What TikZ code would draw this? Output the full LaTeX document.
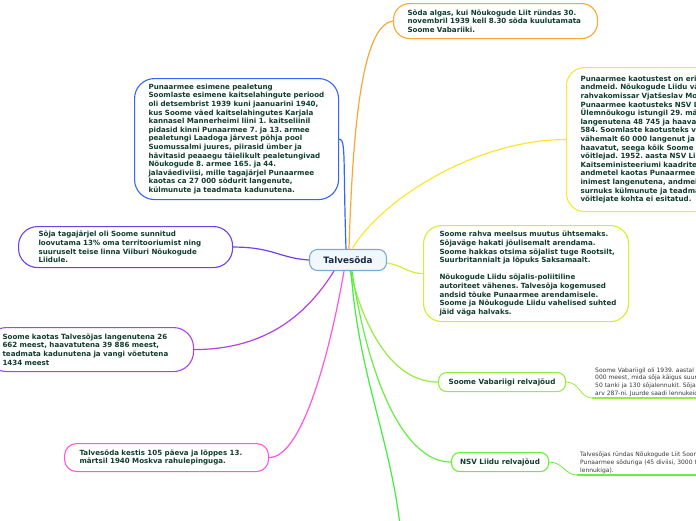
\documentclass[tikz,border=0pt]{standalone}
\usepackage{fontspec}
\setmainfont{DejaVu Sans}
\usetikzlibrary{calc}
\frenchspacing

\definecolor{tekst}{RGB}{16,62,46}
\definecolor{notetext}{RGB}{55,55,55}
\definecolor{keskjoon}{RGB}{120,172,214}
\definecolor{kesktekst}{RGB}{22,42,72}
\definecolor{oranz}{RGB}{250,168,52}
\definecolor{kollane}{RGB}{255,230,45}
\definecolor{sinine}{RGB}{52,100,252}
\definecolor{lilla}{RGB}{112,64,236}
\definecolor{violett}{RGB}{178,64,228}
\definecolor{roosa}{RGB}{255,86,228}
\definecolor{kollroh}{RGB}{212,240,44}
\definecolor{laim}{RGB}{150,236,64}
\definecolor{roheline}{RGB}{104,238,64}
\definecolor{eredroh}{RGB}{64,238,64}

\tikzset{
  mull/.style={draw=#1, fill=white, line width=1.1pt, anchor=north west,
    inner xsep=12pt, inner ysep=2pt, align=left, text=tekst,
    font=\fontsize{7.1}{8.6}\selectfont\bfseries,
    execute at begin node={\hyphenpenalty=10000\rightskip=0pt plus 1fil minus 200pt}},
  haru/.style={draw=#1, line width=1.2pt},
  markus/.style={anchor=south west, inner xsep=3pt, inner ysep=1pt, align=left,
    text width=240pt, text=notetext, font=\fontsize{6.0}{7.8}\selectfont},
}

\begin{document}
\begin{tikzpicture}[x=1pt,y=-1pt]
  \path[use as bounding box] (0,0) rectangle (696,520);
  \clip (0,0) rectangle (696,520);

  % 中心节点
  \node[draw=keskjoon, fill=keskjoon!10, line width=1.1pt, rounded corners=8pt,
    minimum width=77pt, minimum height=21pt, text=kesktekst,
    font=\fontsize{8.8}{10}\selectfont\bfseries] (kesk) at (348,260) {Talvesõda};

  % 分支框
  \node[mull=oranz, rounded corners=16pt, inner xsep=14pt, text width=176pt, minimum height=35pt]
    (algus) at (393,3) {Sõda algas, kui Nõukogude Liit ründas 30.\\
    novembril 1939 kell 8.30 sõda kuulutamata\\
    Soome Vabariiki.};

  \node[mull=kollane, rounded corners=18pt, inner xsep=14pt, text width=200pt, minimum height=144pt]
    (kaotused) at (566,67) {Punaarmee kaotustest on erinevaid\\
    andmeid. Nõukogude Liidu välisasjade\\
    rahvakomissar Vjatšeslav Molotov\\
    Punaarmee kaotusteks NSV Liidu\\
    Ülemnõukogu istungil 29. märtsil\\
    langenutena 48 745 ja haavatutena\\
    584. Soomlaste kaotusteks vähemalt\\
    vähemalt 60 000 langenut ja 250 000\\
    haavatut, seega kõik Soome armee\\
    võitlejad. 1952. aasta NSV Liidu\\
    Kaitseministeeriumi kaadrite\\
    andmetel kaotas Punaarmee sõjas\\
    inimest langenutena, andmeid\\
    surnuks külmunute ja teadmata\\
    võitlejate kohta ei esitatud.};

  \node[mull=sinine, rounded corners=20pt, inner xsep=14pt, text width=176pt, minimum height=121pt]
    (pealetung) at (134,78) {Punaarmee esimene pealetung\\
    Soomlaste esimene kaitselahingute periood\\
    oli detsembrist 1939 kuni jaanuarini 1940,\\
    kus Soome väed kaitselahingutes Karjala\\
    kannasel Mannerheimi liini 1. kaitseliinil\\
    pidasid kinni Punaarmee 7. ja 13. armee\\
    pealetungi Laadoga järvest põhja pool\\
    Suomussalmi juures, piirasid ümber ja\\
    hävitasid peaaegu täielikult pealetungivad\\
    Nõukogude 8. armee 165. ja 44.\\
    jalaväediviisi, mille tagajärjel Punaarmee\\
    kaotas ca 27 000 sõdurit langenute,\\
    külmunute ja teadmata kadunutena.};

  \node[mull=lilla, rounded corners=19pt, inner xsep=20pt, text width=174pt, minimum height=41pt]
    (territoorium) at (18,226) {Sõja tagajärjel oli Soome sunnitud\\
    loovutama 13\% oma territooriumist ning\\
    suuruselt teise linna Viiburi Nõukogude\\
    Liidule.};

  \node[mull=violett, rounded corners=20pt, inner xsep=16pt, text width=175pt, minimum height=44pt]
    (soomekaotus) at (-14,327) {Soome kaotas Talvesõjas langenutena 26\\
    662 meest, haavatutena 39 886 meest,\\
    teadmata kadunutena ja vangi võetutena\\
    1434 meest};

  \node[mull=roosa, rounded corners=12pt, inner xsep=15pt, text width=174pt, minimum height=28pt]
    (kestus) at (64,443) {Talvesõda kestis 105 päeva ja lõppes 13.\\
    märtsil 1940 Moskva rahulepinguga.};

  \node[mull=kollroh, rounded corners=18pt, inner xsep=16pt, text width=173pt, minimum height=96pt]
    (tagajarjed) at (423,225) {Soome rahva meelsus muutus ühtsemaks.\\
    Sõjaväge hakati jõulisemalt arendama.\\
    Soome hakkas otsima sõjalist tuge Rootsilt,\\
    Suurbritannialt ja lõpuks Saksamaalt.\\[8.6pt]
    Nõukogude Liidu sõjalis-poliitiline\\
    autoriteet vähenes. Talvesõja kogemused\\
    andsid tõuke Punaarmee arendamisele.\\
    Soome ja Nõukogude Liidu vahelised suhted\\
    jäid väga halvaks.};

  \node[mull=laim, rounded corners=8pt, inner xsep=0pt, align=center,
    font=\fontsize{7.2}{9}\selectfont\bfseries,
    minimum width=127pt, minimum height=19pt] (vagiSoome) at (438,372) {Soome Vabariigi relvajõud};

  \node[mull=roheline, rounded corners=8pt, inner xsep=0pt, align=center,
    font=\fontsize{7.2}{9}\selectfont\bfseries,
    minimum width=97pt, minimum height=19pt] (vagiNSV) at (451,452) {NSV Liidu relvajõud};

  \coordinate (edasi) at (402,545);

  % 注释文字
  \node[markus] (vagiSoomeM) at (592,398) {Soome Vabariigil oli 1939. aastal väljaõpetatud\\
    000 meest, mida sõja käigus suurendati\\
    50 tanki ja 130 sõjalennukit. Sõja jooksul\\
    arv 287-ni. Juurde saadi lennukeid peamiselt};

  \node[markus] (vagiNSVM) at (577,475) {Talvesõjas ründas Nõukogude Liit Soomet\\
    Punaarmee sõduriga (45 diviisi, 3000 tanki\\
    lennukiga).};

  % 分支连线
  \draw[haru=oranz] ([xshift=1pt]kesk.north) .. controls +(4,-130) and +(-30,4) .. (algus.west);
  \draw[haru=sinine] ([xshift=-2pt]kesk.north) .. controls +(-3,-90) and +(7,0) .. (pealetung.east);
  \draw[haru=kollane] ([xshift=4pt]kesk.north) .. controls +(30,-50) and +(-90,0) .. (kaotused.west);
  \draw[haru=lilla] (territoorium.east) .. controls +(40,0) and +(-30,-2) .. (kesk.west);
  \draw[haru=violett] (soomekaotus.east) .. controls +(75,0) and +(-25,40) .. ([xshift=-14pt]kesk.south);
  \draw[haru=roosa] (kestus.east) .. controls +(35,0) and +(-12,70) .. ([xshift=-4pt]kesk.south);
  \draw[haru=kollroh] ([yshift=-3pt]kesk.east) .. controls +(15,2) and +(-15,0) .. (tagajarjed.west);
  \draw[haru=laim] ([xshift=2pt]kesk.south) .. controls +(15,60) and +(-45,0) .. (vagiSoome.west);
  \draw[haru=roheline] ([xshift=4pt]kesk.south) .. controls +(15,100) and +(-50,0) .. (vagiNSV.west);
  \draw[haru=eredroh] ([xshift=3pt]kesk.south) .. controls +(8,110) and +(-8,-100) .. (edasi);

  % 注释下划线
  \draw[laim, line width=0.8pt] (vagiSoome.east) .. controls +(14,0) and +(-12,0) .. (vagiSoomeM.south west);
  \draw[laim, line width=2pt] (vagiSoomeM.south west) -- (vagiSoomeM.south east);
  \draw[roheline, line width=0.8pt] (vagiNSV.east) .. controls +(14,0) and +(-12,0) .. (vagiNSVM.south west);
  \draw[roheline, line width=2pt] (vagiNSVM.south west) -- (vagiNSVM.south east);
\end{tikzpicture}
\end{document}
